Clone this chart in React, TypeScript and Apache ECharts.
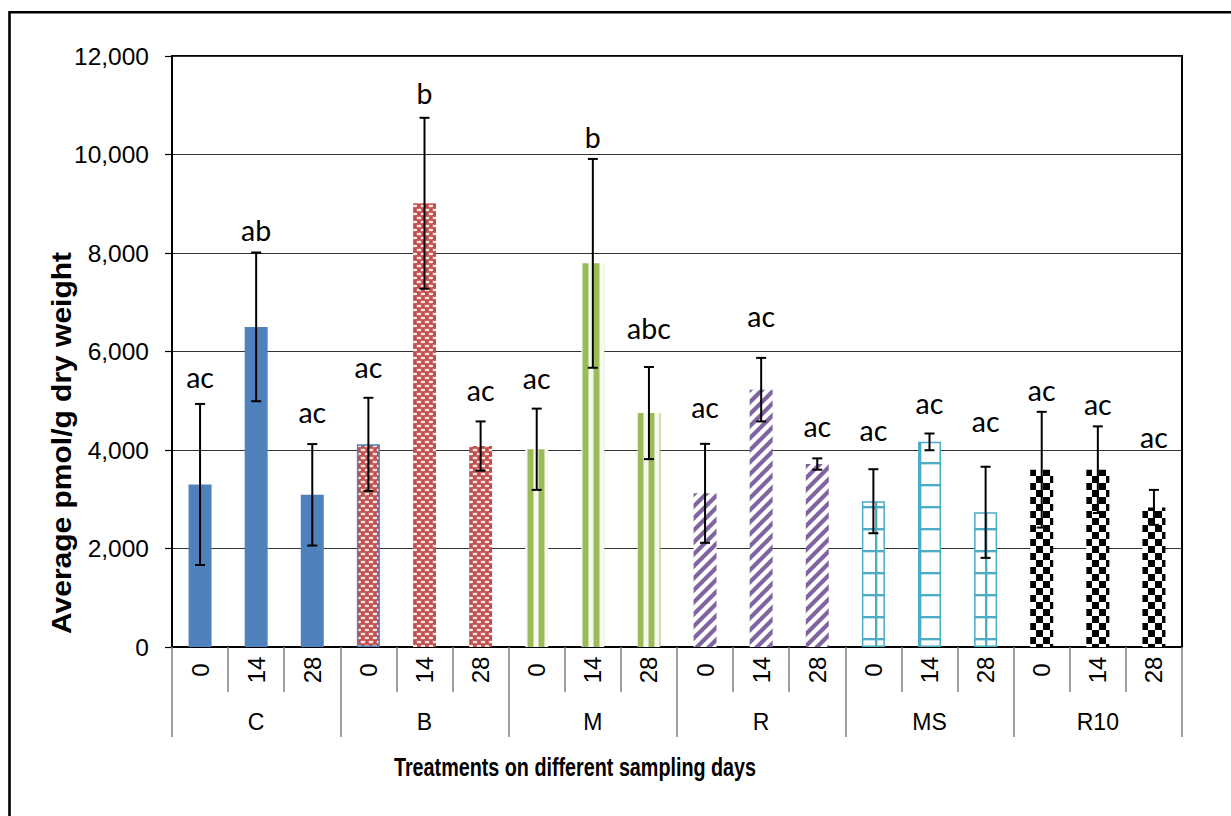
import React, { useEffect, useRef } from 'react';
import * as echarts from 'echarts';

const groups = ['C', 'B', 'M', 'R', 'MS', 'R10'];
const days = ['0', '14', '28'];

const meansC = [3300, 6500, 3090];
const meansB = [4115, 9010, 4080];
const meansM = [4015, 7790, 4750];
const meansR = [3120, 5225, 3715];
const meansMS = [2960, 4165, 2735];
const meansR10 = [3600, 3600, 2835];

const errC = [1635, 1510, 1030];
const errB = [945, 1735, 500];
const errM = [825, 2120, 935];
const errR = [1005, 645, 115];
const errMS = [650, 170, 925];
const errR10 = [1175, 880, 355];

const lettersC = ['ac', 'ab', 'ac'];
const lettersB = ['ac', 'b', 'ac'];
const lettersM = ['ac', 'b', 'abc'];
const lettersR = ['ac', 'ac', 'ac'];
const lettersMS = ['ac', 'ac', 'ac'];
const lettersR10 = ['ac', 'ac', 'ac'];

const letterPosC = [5490, 8465, 4775];
const letterPosB = [5680, 11245, 5220];
const letterPosM = [5455, 10360, 6470];
const letterPosR = [4875, 6720, 4485];
const letterPosMS = [4405, 4955, 4595];
const letterPosR10 = [5220, 4935, 4260];

const yTicks = [0, 2000, 4000, 6000, 8000, 10000, 12000];

const allMeans = [meansC, meansB, meansM, meansR, meansMS, meansR10];
const allErr = [errC, errB, errM, errR, errMS, errR10];
const allLetters = [lettersC, lettersB, lettersM, lettersR, lettersMS, lettersR10];
const allLetterPos = [letterPosC, letterPosB, letterPosM, letterPosR, letterPosMS, letterPosR10];

function tile(w: number, h: number, draw: (ctx: CanvasRenderingContext2D) => void) {
  const c = document.createElement('canvas');
  c.width = w;
  c.height = h;
  const ctx = c.getContext('2d') as CanvasRenderingContext2D;
  draw(ctx);
  return c;
}

function makePatterns() {
  const brick = tile(8, 8, (ctx) => {
    ctx.fillStyle = '#C0504D';
    ctx.fillRect(0, 0, 8, 8);
    ctx.fillStyle = 'rgba(255,240,240,0.95)';
    ctx.fillRect(1, 1, 4, 2);
    ctx.fillRect(5, 5, 3, 2);
    ctx.fillRect(0, 5, 1, 2);
    ctx.fillStyle = 'rgba(255,220,220,0.4)';
    ctx.fillRect(0.5, 0.5, 5, 3);
    ctx.fillRect(4.5, 4.5, 3.5, 3);
  });
  const vstripe = tile(11, 4, (ctx) => {
    ctx.fillStyle = '#f6f9ef';
    ctx.fillRect(0, 0, 11, 4);
    ctx.fillStyle = '#9BBB59';
    ctx.fillRect(0, 0, 5, 4);
    ctx.fillStyle = '#c9dba6';
    ctx.fillRect(5, 0, 1, 4);
    ctx.fillRect(10, 0, 1, 4);
  });
  const diag = tile(12, 12, (ctx) => {
    ctx.fillStyle = '#ffffff';
    ctx.fillRect(0, 0, 12, 12);
    ctx.strokeStyle = '#8064A2';
    ctx.lineWidth = 4.2;
    ctx.beginPath();
    ctx.moveTo(-3, 15);
    ctx.lineTo(15, -3);
    ctx.moveTo(-9, 9);
    ctx.lineTo(9, -9);
    ctx.moveTo(3, 21);
    ctx.lineTo(21, 3);
    ctx.stroke();
  });
  const grid = tile(22, 22, (ctx) => {
    ctx.fillStyle = '#ffffff';
    ctx.fillRect(0, 0, 22, 22);
    ctx.fillStyle = '#4BACC6';
    ctx.fillRect(0, 0, 22, 2);
    ctx.fillRect(17, 0, 2, 22);
    ctx.fillStyle = 'rgba(75,172,198,0.35)';
    ctx.fillRect(0, 2, 22, 1);
    ctx.fillRect(19, 0, 1, 22);
  });
  const checker = tile(14, 14, (ctx) => {
    ctx.fillStyle = '#ffffff';
    ctx.fillRect(0, 0, 14, 14);
    ctx.fillStyle = '#000000';
    ctx.fillRect(0, 0, 7, 7);
    ctx.fillRect(7, 7, 7, 7);
  });
  const pat = (c: HTMLCanvasElement) => ({ image: c, repeat: 'repeat' as const });
  return [
    { color: '#4F81BD' as any, borderColor: 'transparent', borderWidth: 0 },
    { color: pat(brick) as any, borderColor: 'transparent', borderWidth: 0 },
    { color: pat(vstripe) as any, borderColor: 'transparent', borderWidth: 0 },
    { color: pat(diag) as any, borderColor: 'transparent', borderWidth: 0 },
    { color: pat(grid) as any, borderColor: '#4BACC6', borderWidth: 1.5 },
    { color: pat(checker) as any, borderColor: 'transparent', borderWidth: 0 },
  ];
}

export default function App() {
  const ref = useRef<HTMLDivElement>(null);

  useEffect(() => {
    if (!ref.current) return;
    const chart = echarts.init(ref.current, undefined, { renderer: 'svg' });
    const styles = makePatterns();

    const categories: string[] = [];
    const barData: any[] = [];
    const errData: number[][] = [];
    const letterData: number[][] = [];
    const letterText: string[] = [];
    groups.forEach((g, gi) => {
      days.forEach((d, di) => {
        const idx = categories.length;
        categories.push(g + '|' + d);
        const st = { ...styles[gi] };
        if (gi === 1 && di === 0) {
          st.borderColor = '#4F81BD';
          st.borderWidth = 1.5;
        }
        barData.push({ value: allMeans[gi][di], itemStyle: st });
        errData.push([idx, allMeans[gi][di] - allErr[gi][di], allMeans[gi][di] + allErr[gi][di]]);
        letterData.push([idx, allLetterPos[gi][di]]);
        letterText.push(allLetters[gi][di]);
      });
    });

    const tickColor = '#7f7f7f';

    chart.setOption({
      animation: false,
      backgroundColor: '#ffffff',
      grid: {
        left: 172,
        top: 56,
        right: 49,
        bottom: 169,
        show: true,
        borderColor: '#000',
        borderWidth: 2,
      },
      xAxis: [
        {
          type: 'category',
          data: categories,
          axisLine: { show: true, lineStyle: { color: '#000', width: 2 } },
          axisTick: { show: true, interval: 0, length: 45, lineStyle: { color: tickColor, width: 1.5 } },
          axisLabel: {
            interval: 0,
            rotate: 90,
            align: 'center',
            verticalAlign: 'middle',
            margin: 23,
            fontSize: 24,
            fontFamily: '"Liberation Sans", Arial, sans-serif',
            color: '#000',
            formatter: (v: string) => v.split('|')[1],
          },
          splitLine: { show: false },
        },
        {
          type: 'category',
          data: groups,
          position: 'bottom',
          offset: 45,
          axisLine: { show: false },
          axisTick: { show: true, interval: 0, length: 45, lineStyle: { color: tickColor, width: 1.5 } },
          axisLabel: {
            interval: 0,
            margin: 30,
            verticalAlign: 'middle',
            fontSize: 23,
            fontFamily: '"Liberation Sans", Arial, sans-serif',
            color: '#000',
          },
          splitLine: { show: false },
        },
      ],
      yAxis: {
        type: 'value',
        min: yTicks[0],
        max: yTicks[yTicks.length - 1],
        interval: yTicks[1] - yTicks[0],
        axisLine: { show: true, lineStyle: { color: '#000', width: 2 } },
        axisTick: { show: true, length: 7, lineStyle: { color: '#000', width: 1.2 } },
        axisLabel: {
          margin: 23,
          fontSize: 24.5,
          fontFamily: '"Liberation Sans", Arial, sans-serif',
          color: '#000',
          formatter: (v: number) => v.toLocaleString('en-US'),
        },
        splitLine: { show: true, lineStyle: { color: '#333', width: 1 } },
      },
      graphic: [
        {
          type: 'rect',
          shape: { x: 9.5, y: 12.3, width: 1400, height: 1000 },
          style: { fill: 'none', stroke: '#000', lineWidth: 2.6 },
          silent: true,
        },
        {
          type: 'text',
          x: 575,
          y: 767,
          scaleX: 0.76,
          style: {
            text: 'Treatments on different sampling days',
            font: 'bold 26px "Liberation Sans", Arial, sans-serif',
            fill: '#000',
            align: 'center',
            verticalAlign: 'middle',
            textAlign: 'center',
            textVerticalAlign: 'middle',
          },
        },
        {
          type: 'text',
          x: 62,
          y: 443,
          rotation: Math.PI / 2,
          scaleY: 0.9,
          style: {
            text: 'Average pmol/g dry weight',
            font: 'bold 30px "Liberation Sans", Arial, sans-serif',
            fill: '#000',
            align: 'center',
            verticalAlign: 'middle',
            textAlign: 'center',
            textVerticalAlign: 'middle',
          },
        },
      ],
      series: [
        {
          type: 'bar',
          xAxisIndex: 0,
          barWidth: 23,
          data: barData,
          z: 2,
        },
        {
          type: 'custom',
          xAxisIndex: 0,
          z: 5,
          data: errData,
          encode: { x: 0, y: [1, 2] },
          renderItem: (params: any, api: any) => {
            const i = api.value(0);
            const lo = api.coord([i, api.value(1)]);
            const hi = api.coord([i, api.value(2)]);
            const x = lo[0];
            const cap = 5;
            const st = { stroke: '#000', lineWidth: 2 };
            return {
              type: 'group',
              children: [
                { type: 'line', shape: { x1: x, y1: hi[1], x2: x, y2: lo[1] }, style: st },
                { type: 'line', shape: { x1: x - cap, y1: hi[1], x2: x + cap, y2: hi[1] }, style: st },
                { type: 'line', shape: { x1: x - cap, y1: lo[1], x2: x + cap, y2: lo[1] }, style: st },
              ],
            };
          },
        },
        {
          type: 'custom',
          xAxisIndex: 0,
          z: 6,
          data: letterData,
          encode: { x: 0, y: 1 },
          renderItem: (params: any, api: any) => {
            const p = api.coord([api.value(0), api.value(1)]);
            return {
              type: 'text',
              x: p[0],
              y: p[1],
              style: {
                text: letterText[params.dataIndex],
                font: '28.5px Lato, "Open Sans", sans-serif',
                fill: '#000',
                align: 'center',
                verticalAlign: 'middle',
                textAlign: 'center',
                textVerticalAlign: 'middle',
              },
            };
          },
        },
      ],
    });

    return () => {
      chart.dispose();
    };
  }, []);

  return (
    <div
      ref={ref}
      style={{ position: 'fixed', left: 0, top: 0, width: 1231, height: 816, background: '#fff' }}
    />
  );
}
